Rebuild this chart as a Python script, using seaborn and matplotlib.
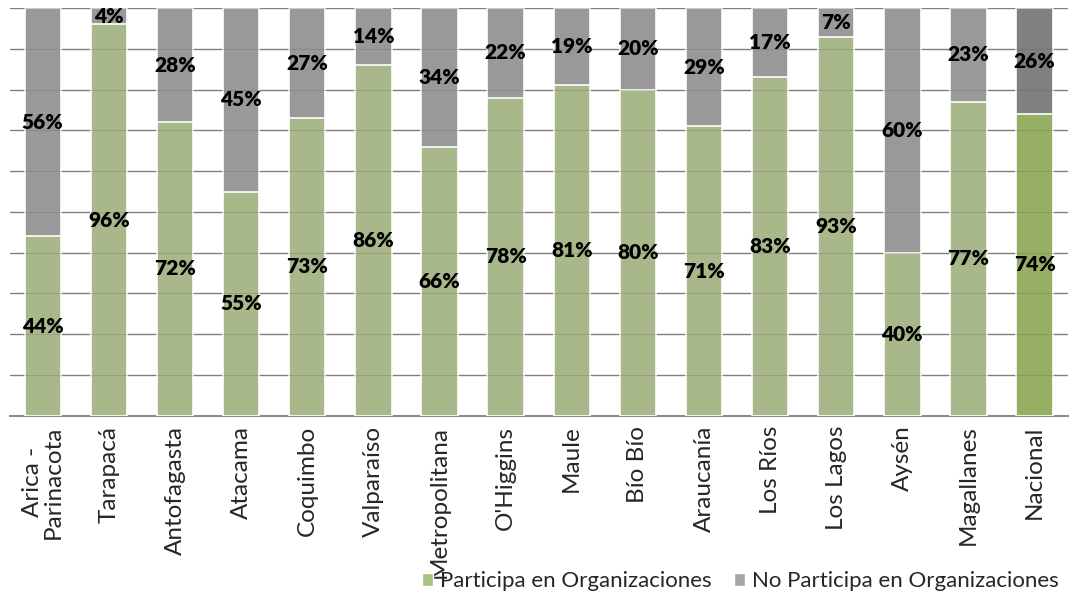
import matplotlib
matplotlib.use('Agg')
import matplotlib.pyplot as plt
import seaborn as sns
import pandas as pd
from matplotlib.patches import Patch

# Datos
regiones = ["Arica -\nParinacota", "Tarapacá", "Antofagasta", "Atacama", "Coquimbo",
            "Valparaíso", "Metropolitana", "O'Higgins", "Maule", "Bío Bío",
            "Araucanía", "Los Ríos", "Los Lagos", "Aysén", "Magallanes", "Nacional"]
participa = [44, 96, 72, 55, 73, 86, 66, 78, 81, 80, 71, 83, 93, 40, 77, 74]
no_participa = [56, 4, 28, 45, 27, 14, 34, 22, 19, 20, 29, 17, 7, 60, 23, 26]

df = pd.DataFrame({"Region": regiones, "Participa": participa, "NoParticipa": no_participa})
df["Total"] = df["Participa"] + df["NoParticipa"]

verde = ["#abc083"] * 15 + ["#9bbb59"]
gris = ["#999999"] * 15 + ["#808080"]

sns.set_style("white")
plt.rcParams['font.family'] = ['Lato', 'DejaVu Sans']

fig = plt.figure(figsize=(10.72, 5.94), dpi=100)
ax = fig.add_axes([0.009, 0.30, 0.987, 0.6865])

# lineas de grilla (cada 10%)
for y in range(10, 101, 10):
    ax.axhline(y, color="#8c8c8c", lw=1, zorder=0)

sns.barplot(data=df, x="Region", y="Total", hue="Region", palette=gris, legend=False,
            width=0.55, ax=ax, edgecolor="white", linewidth=1.2, zorder=2)
sns.barplot(data=df, x="Region", y="Participa", hue="Region", palette=verde, legend=False,
            width=0.55, ax=ax, edgecolor="white", linewidth=1.2, zorder=3)

# grilla tenue sobre las barras
for y in range(10, 101, 10):
    ax.axhline(y, color="#555555", lw=0.8, alpha=0.22, zorder=4)

# etiquetas de datos
for i, (p, n) in enumerate(zip(participa, no_participa)):
    ax.text(i, p / 2, f"{p}%", ha="center", va="center", fontsize=15, fontweight="heavy",
            color="black", zorder=5)
    ax.text(i, p + n / 2, f"{n}%", ha="center", va="center", fontsize=15, fontweight="heavy",
            color="black", zorder=5)

ax.set_ylim(0, 100)
ax.set_xlim(-0.5, len(regiones) - 0.5)
ax.set_yticks([])
ax.set_xlabel("")
ax.set_ylabel("")
ax.set_xticks(range(len(regiones)))
ax.set_xticklabels(regiones, rotation=90, fontsize=17.5, va="top", ha="center", linespacing=1.0)
ax.tick_params(axis="x", length=0, pad=7)
for s in ["top", "right", "left"]:
    ax.spines[s].set_visible(False)
ax.spines["bottom"].set_color("#8c8c8c")
ax.spines["bottom"].set_linewidth(1.5)

handles = [Patch(facecolor="#abc083", label="Participa en Organizaciones"),
           Patch(facecolor="#a6a6a6", label="No Participa en Organizaciones")]
fig.legend(handles=handles, loc="lower right", bbox_to_anchor=(1.006, -0.029), ncol=2,
           frameon=False, fontsize=16, handlelength=0.5, handleheight=0.5,
           handletextpad=0.3, columnspacing=1.0)

fig.savefig("out.png", dpi=100)
